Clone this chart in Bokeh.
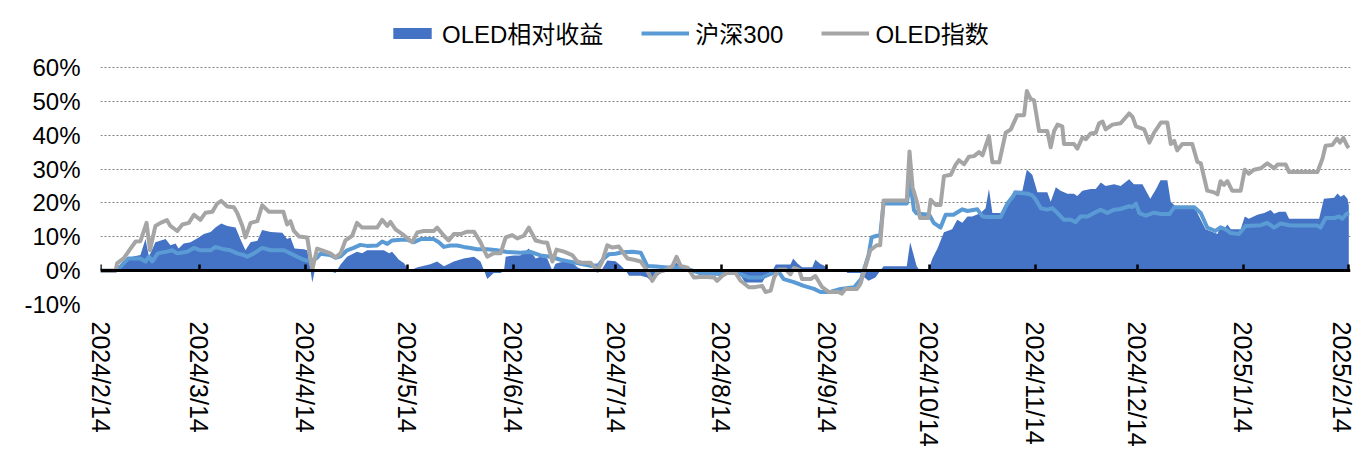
import pandas as pd
from bokeh.plotting import figure
from bokeh.models import (FixedTicker, LinearAxis, Legend, LegendItem,
                          PrintfTickFormatter, Range1d)
from bokeh.embed import file_html
from bokeh.resources import INLINE

FONT = "Liberation Sans, Noto Sans CJK SC"

start_date = "2024/2/14"
tick_labels = ["2024/2/14", "2024/3/14", "2024/4/14", "2024/5/14", "2024/6/14",
               "2024/7/14", "2024/8/14", "2024/9/14", "2024/10/14", "2024/11/14",
               "2024/12/14", "2025/1/14", "2025/2/14"]
y_ticks = [-10, 0, 10, 20, 30, 40, 50, 60]

series_names = ["OLED相对收益", "沪深300", "OLED指数"]

# OLED index (days since start_date, % return)
oled_day = [0, 4.4, 4.9, 6.8, 8.8, 10.3, 11.7, 13.5, 14.5, 16.1, 17.6, 19.5, 20.5, 22.5, 24,
            25.9, 27.4, 29.3, 30.8, 32.8, 34.2, 35.4, 37.2, 39.1, 40.1, 41.6, 42.5, 44, 46,
            47.4, 49.4, 53.6, 54.7, 55.7, 56.7, 58.2, 60.6, 62.1, 63.5, 65, 67.4, 68.9, 70.4,
            71.8, 73.8, 75.2, 76.7, 81.1, 82.6, 84.1, 85, 86.5, 88.5, 91.4, 92.9, 94.8, 97.7,
            98.7, 100.7, 102.1, 103.6, 105.6, 107.5, 109.5, 111.4, 113.4, 115.3, 117.3, 118.8,
            120.7, 122.2, 124.1, 125.6, 127.6, 129.5, 131, 132.5, 133.7, 135.9, 138.3, 139.8,
            141.3, 143.7, 145.7, 147.1, 148.6, 150.1, 152, 153, 154.5, 156.4, 158.4, 160.3,
            161.8, 163.3, 165.2, 167.7, 168.9, 170.1, 172.1, 174, 176.9, 179.9, 180.8, 182.3,
            183.8, 186.2, 187.7, 190.1, 191.6, 194, 195, 196.5, 197.5, 198.9, 200.9, 202.3,
            203.3, 204.8, 205.7, 208.2, 209.6, 211.6, 213.5, 216.4, 217.4, 218.4, 221.8, 222.8,
            224.2, 225.7, 227.6, 228.6, 229.6, 236.4, 237.2, 238.1, 239.5, 240.3, 242.7, 243.4,
            244.9, 246.3, 247.3, 249.3, 250.7, 251.7, 253.2, 254.6, 256.1, 257.6, 258.6, 260.5,
            261.5, 263.5, 265.4, 266.9, 268.8, 270.8, 271.6, 272.7, 273.7, 275.2, 277.6, 278.6,
            279.6, 280.6, 282, 282.5, 285.4, 286.4, 287.9, 288.9, 290.3, 291.8, 292.8, 293.8,
            294.7, 296.7, 299.1, 301.6, 302.6, 303.6, 306, 307.5, 308.9, 310.9, 312.8, 313.8,
            314.8, 315.7, 317.2, 320.1, 321.6, 322.6, 324.5, 326.5, 327.5, 328.4, 329.4, 330.4,
            331.8, 334.3, 335.5, 336.7, 338.2, 340.2, 342.1, 344.1, 345.1, 347.5, 348.5, 356.8,
            358.3, 359.2, 361.2, 362.5, 363.4, 364.4, 365.6, 366]
oled_val = [0, 0, 2.2, 3.6, 6.5, 8.6, 8.7, 14.1, 6.0, 13.2, 14.1, 14.9, 13.2, 11.7, 13.6,
            14.1, 16.5, 15.0, 17.1, 17.4, 19.8, 20.6, 18.9, 18.7, 17.0, 13.2, 9.8, 14.1, 14.6,
            19.3, 17.4, 17.4, 13.6, 14.6, 11.7, 10.1, 9.8, 0.3, 6.5, 6.0, 5.1, 3.9, 5.1,
            8.9, 10.3, 14.1, 12.7, 12.7, 15.0, 13.2, 14.4, 12.2, 10.8, 8.4, 11.3, 11.7, 11.7,
            12.7, 10.3, 8.9, 10.8, 10.8, 11.5, 11.5, 8.4, 4.1, 5.1, 5.1, 9.8,
            10.5, 9.5, 10.3, 12.7, 8.9, 8.4, 8.2, 2.7, 6.2, 5.6, 4.6, 2.7,
            2.3, 2.3, 0, 2.7, 7.5, 6.8, 7.1, 5.6, 3.6, 3.2, 2.7, 0,
            -3.0, -0.5, 0, 1.4, 4.1, 1.4, 0.9, -2.0, -1.8, -2.0, -3.0, -1.5,
            -0.6, -0.7, -3.0, -4.9, -4.9, -4.5, -6.3, -5.9, -2.0, 0.3, 0.3, -1.1,
            0.8, 0.3, -2.5, -2.5, -1.6, -4.9, -6.3, -6.3, -6.8, -5.4, -5.4, -3.9,
            0.8, 6.0, 7.5, 7.5, 20.7, 20.7, 35.2, 24.6, 19.8, 15.5, 15.5, 20.9,
            19.4, 19.4, 27.9, 28.3, 31.2, 32.6, 31.4, 33.6, 33.8, 35.0, 34.0, 39.7,
            32.0, 32.0, 40.7, 41.7, 45.9, 45.9, 53.0, 50.7, 50.3, 41.2, 41.2, 36.4,
            41.2, 43.1, 42.6, 37.4, 37.4, 36.0, 39.3, 38.8, 40.5, 40.7, 43.5, 44.0,
            41.7, 43.1, 43.5, 46.4, 45.4, 42.6, 41.7, 37.8, 40.7, 43.7, 43.7, 37.4,
            38.3, 35.5, 37.4, 37.4, 32.1, 31.7, 23.6, 23.1, 22.5, 26.4, 25.3, 26.4,
            23.6, 23.6, 29.8, 28.6, 29.8, 30.2, 31.7, 30.2, 31.3, 31.3, 29.1, 29.1,
            33.1, 36.9, 37.1, 39.0, 37.8, 39.2, 36.7, 36.2]

# CSI 300
hs300_day = [0, 4.4, 5.5, 8.2, 11.7, 13.2, 14.2, 15.2, 16.8, 19.5, 21, 22.5, 25.4, 27.4, 29.3,
             32.3, 33.7, 35.7, 38.1, 40.1, 42, 43, 45, 47.4, 49.9, 53.8, 55.7, 57.7, 59.6,
             61.6, 63.5, 64.5, 67.4, 68.9, 70.4, 72.3, 74.2, 76.2, 78.2, 81.1, 82.6, 84.1,
             85.5, 88, 90, 91.9, 93.9, 97.7, 99.2, 100.7, 102.6, 104.6, 106.5, 108.5, 110.4,
             113.4, 116.3, 119.2, 123.1, 126.1, 129, 131.9, 134.9, 136.9, 140, 143.7, 146,
             147.5, 149, 151, 153, 156, 158.4, 160.3, 163, 166, 169, 172.1, 176, 181.8, 183.8,
             186.2, 187.7, 190, 194, 196.5, 198.4, 200.3, 203.3, 206.2, 209.2, 211.1, 214,
             217, 221, 223, 225.2, 226.1, 227.6, 228.6, 229.6, 236.4, 237.4, 238.5, 239.3,
             243, 244.3, 246.3, 247.8, 250.1, 252.7, 254.2, 257.1, 258.6, 260.1, 263.9,
             265.9, 267.4, 268.3, 271.8, 273.2, 274.2, 275.7, 277.6, 279.1, 280.6, 282.5,
             284.5, 285.9, 287.4, 289.4, 291.3, 293.3, 295.2, 297.2, 299.1, 301.6, 302.6,
             303.6, 304.6, 306.5, 308.9, 310.9, 313.4, 314.8, 320.7, 322.6, 324.5, 326.9,
             328.4, 329.9, 331.4, 333.8, 335.7, 340.2, 342.1, 344.1, 346, 348.9, 356.8,
             357.7, 359.2, 361.7, 363.1, 364.1, 365.1, 366]
hs300_val = [0, 0, 0.8, 3.6, 3.6, 2.7, 4.1, 2.7, 5.1, 5.6, 6.0, 5.1, 5.6, 6.7, 6.0,
             6.0, 7.0, 6.4, 6.0, 5.1, 4.6, 4.1, 5.1, 6.7, 6.0, 6.0, 5.1, 4.1, 3.2,
             2.7, 3.8, 5.0, 4.6, 3.8, 4.2, 6.0, 6.7, 7.6, 7.3, 7.4, 8.6, 7.9,
             8.9, 9.1, 9.1, 8.4, 9.3, 9.3, 8.4, 7.0, 7.4, 7.4, 7.0, 6.7, 6.3,
             6.3, 6.0, 5.5, 5.3, 5.5, 4.5, 4.1, 3.2, 2.8, 2.2, 1.4, 1.6,
             3.5, 4.8, 5.0, 5.4, 5.6, 5.3, 1.4, 1.2, 0.9, 0.9, 0.5, -0.8, -1.0, -0.7,
             -0.7, -1.1, -2.0, -2.0, -1.0, 0.3, -2.5, -3.4, -4.5, -5.4, -6.3, -6.3,
             -5.4, -4.9, -2.5, 4.6, 9.8, 10.3, 10.3, 19.8, 19.8, 26.4, 17.9, 16.9,
             16.5, 14.1, 12.7, 16.5, 16.5, 18.1, 17.6, 18.1, 16.0, 15.8, 15.8,
             19.8, 21.7, 23.1, 22.7, 22.2, 21.0, 18.4, 18.0, 18.4, 17.0, 15.0,
             15.0, 14.3, 16.0, 16.0, 17.0, 18.0, 17.0, 18.0, 18.2, 19.0, 18.8,
             19.8, 17.0, 16.2, 17.1, 16.7, 16.7, 18.7, 18.7, 17.0, 12.7, 11.7,
             12.8, 12.2, 11.1, 10.8, 13.2, 13.4, 14.1, 12.7, 13.9, 13.3, 13.3,
             12.7, 15.5, 15.5, 16.0, 15.3, 16.5, 17.1]

# OLED relative return
rel_day = [0, 5, 6, 9.3, 11.7, 13.2, 14.2, 16.1, 19.1, 20.5, 22, 22.9, 24.4, 26.4, 28.8, 30.3,
           32.3, 33.7, 35.4, 37.2, 39.6, 41, 42.5, 44, 46, 47.4, 49.9, 53.3, 54.7, 55.7, 56.9,
           59.6, 60.6, 61.6, 62.1, 62.8, 63.5, 67, 68.9, 70.4, 72.3, 75.2, 76.7, 78.2, 83.1,
           84.6, 85.5, 87.5, 89, 90.5, 93, 96.7, 98.7, 100.7, 103.6, 106.5, 109.5, 111.4,
           112.5, 113.4, 115.3, 117.3, 118.3, 118.8, 121.2, 123.1, 125.6, 127.6, 129, 131,
           132.5, 133.4, 134.9, 138, 139.8, 141.3, 145.7, 147.1, 148.6, 151, 152.5, 154, 155,
           158.4, 160.3, 161.8, 163.3, 165.2, 167.7, 168.9, 170.1, 172.1, 174, 180, 181.8,
           186.2, 187.7, 189, 194, 195.5, 197, 198, 202.3, 203.1, 204.3, 205.7, 208.7, 209.6,
           211, 212.5, 213.5, 218.4, 219, 222.8, 224, 225.2, 227.2, 228.6, 229.6, 236.4,
           237.4, 239.3, 240.3, 242.7, 243.9, 245.4, 247.3, 249.7, 251.2, 252.7, 254.2,
           255.6, 258.1, 259.5, 260.5, 261.5, 263.9, 265.9, 267.8, 270.3, 271.6, 273.2,
           274.7, 277.6, 278.6, 280.1, 281.5, 283.5, 285.4, 286.4, 287.9, 290.3, 291.8,
           293.3, 294.7, 297.2, 299.1, 301.6, 303, 305.5, 307.8, 309.5, 310.8, 312.8, 313.8,
           315.2, 320.6, 321.6, 324, 327.5, 328.4, 329.4, 330.4, 331.4, 334.3, 335.5, 336.7,
           339.2, 341.2, 343.1, 344.1, 345.6, 347.5, 348.5, 357.3, 358.7, 361.7, 362.7,
           363.6, 364.6, 365.6, 366]
rel_val = [0, 0, 1.0, 4.1, 4.6, 9.3, 4.1, 8.4, 9.3, 7.5, 8.0, 6.5, 8.0, 8.4, 9.8, 10.8,
           11.4, 12.7, 13.9, 13.2, 12.7, 9.3, 6.0, 8.4, 8.8, 12.0, 11.4, 11.2, 9.3, 9.8, 6.5,
           6.3, 6.0, 0, -3.5, 0, 0.2, 0, -0.7, 1.8, 4.1, 5.6, 5.1, 6.0, 6.0,
           5.1, 5.6, 3.2, 2.2, 0, 1.0, 1.9, 2.7, 1.3, 2.7, 3.6, 4.1, 2.7,
           0, -2.5, -0.7, -0.7, 0, 4.1, 4.5, 4.5, 6.5, 3.6, 4.1, 3.6,
           0, 2.0, 2.5, 2.8, 1.0, 0.3, 0, 0.5, 3.0, 2.8, 1.5, 0, -1.5,
           -1.5, -2.0, -3.4, -1.5, 0, 0.5, 2.5, 0.5, 0.4, -0.7, -0.7, -1.0,
           -0.8, -1.5, -3.5, -3.5, -1.0, 0, 1.8, 1.8, 3.6, 2.2, 1.0, 1.0, 3.2,
           2.0, 1.3, 0, 0, -0.7, -0.7, -2.0, -3.0, -2.0, 0, 1.3, 1.3,
           8.4, 1.3, 0, 0, 3.6, 6.5, 11.3, 12.2, 15.0, 14.1, 16.0,
           16.0, 17.0, 18.4, 24.1, 17.0, 17.0, 19.4, 23.6, 23.6, 29.8, 28.3,
           23.1, 23.1, 20.3, 24.6, 23.6, 22.7, 22.7, 22.0, 23.6, 24.1, 24.1,
           26.0, 25.0, 25.5, 25.0, 27.0, 25.5, 25.5, 21.2, 24.1, 26.7, 26.7, 20.3,
           18.9, 19.0, 17.0, 12.2, 10.8, 13.2, 12.2, 13.6, 12.2, 12.2, 16.0, 15.3,
           16.5, 17.0, 17.9, 16.8, 17.4, 17.4, 15.3, 15.3, 21.2, 21.5, 22.8,
           21.8, 22.4, 21.2, 19.3]

start = pd.to_datetime(start_date, format="%Y/%m/%d")
tick_pos = [int((pd.to_datetime(t, format="%Y/%m/%d") - start).days) for t in tick_labels]

# frame extends above the 60% line so the legend sits inside it
p = figure(width=1355, height=449, output_backend="svg", toolbar_location=None,
           x_range=Range1d(0, 366.5), y_range=Range1d(-10, 76.79),
           min_border_left=100, min_border_right=5, min_border_top=10, min_border_bottom=134)
p.outline_line_color = None
p.background_fill_color = "white"
p.border_fill_color = "white"

area_r = p.varea(x=rel_day, y1=0, y2=rel_val, fill_color="#4472C4")
hs_r = p.line(hs300_day, hs300_val, line_color="#5B9BD5", line_width=4, line_join="round")
oled_r = p.line(oled_day, oled_val, line_color="#A5A5A5", line_width=4, line_join="round")

# grid
p.xgrid.visible = False
p.ygrid.ticker = FixedTicker(ticks=[t for t in y_ticks if t != 0])
p.ygrid.grid_line_color = "#7F7F7F"
p.ygrid.grid_line_dash = "2 2"
p.ygrid.grid_line_width = 1

# y axis
ya = p.yaxis[0]
ya.ticker = FixedTicker(ticks=y_ticks)
ya.formatter = PrintfTickFormatter(format="%d%%")
ya.axis_line_color = None
ya.major_tick_line_color = None
ya.minor_tick_line_color = None
ya.major_tick_in = 0
ya.major_tick_out = 0
ya.major_label_standoff = 20
ya.major_label_text_font = FONT
ya.major_label_text_font_size = "24px"
ya.major_label_text_color = "black"

# bottom label axis
xa = p.xaxis[0]
xa.ticker = FixedTicker(ticks=tick_pos)
xa.major_label_overrides = {tp: lbl for tp, lbl in zip(tick_pos, tick_labels)}
xa.major_label_orientation = "vertical"
xa.axis_line_color = None
xa.major_tick_line_color = None
xa.minor_tick_line_color = None
xa.major_tick_in = 0
xa.major_tick_out = 0
xa.major_label_standoff = 17
xa.major_label_text_font = FONT
xa.major_label_text_font_size = "25px"
xa.major_label_text_color = "black"

# zero line axis with inward ticks
zero_axis = LinearAxis(fixed_location=0, ticker=FixedTicker(ticks=tick_pos),
                       axis_line_color="black", axis_line_width=3,
                       major_tick_in=6, major_tick_out=0,
                       major_tick_line_color="black", major_tick_line_width=2.5,
                       minor_tick_line_color=None,
                       major_label_text_font_size="0px", major_label_text_color=None)
p.add_layout(zero_axis, "below")

legend = Legend(items=[LegendItem(label=series_names[0], renderers=[area_r]),
                       LegendItem(label=series_names[1], renderers=[hs_r]),
                       LegendItem(label=series_names[2], renderers=[oled_r])],
                orientation="horizontal", location=(288, 254),
                glyph_width=48, glyph_height=14, label_standoff=6, spacing=38,
                padding=0, margin=0, border_line_color=None, background_fill_alpha=0,
                label_text_font=FONT, label_text_font_size="24px", label_text_color="black")
p.add_layout(legend)

open("out.html", "w").write(file_html(p, INLINE))
